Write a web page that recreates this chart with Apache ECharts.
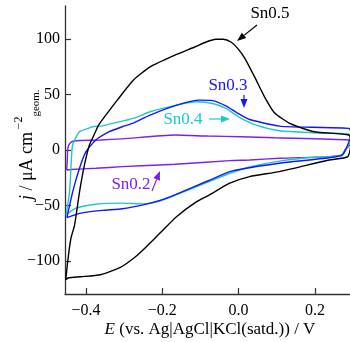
<!DOCTYPE html>
<html><head><meta charset="utf-8">
<script src="https://cdn.jsdelivr.net/npm/echarts@6/dist/echarts.min.js"></script>
<style>html,body{margin:0;padding:0;background:#fff}#c{width:350px;height:342px}</style>
</head><body><div id="c"></div>
<script>
// ---- data (E in V vs Ag|AgCl|KCl(satd.), j in µA cm^-2 geom.) ----
var xTicks = [-0.4, -0.2, 0.0, 0.2];
var yTicks = [-100, -50, 0, 50, 100];

var sn05E = [-0.453,-0.449,-0.444,-0.439,-0.430,-0.417,-0.404,-0.391,-0.379,-0.367,-0.346,-0.318,-0.276,-0.232,-0.167,-0.115,-0.085,-0.060,-0.040,-0.020,-0.003,0.016,0.042,0.068,0.094,0.137,0.198,0.289,0.295,
             0.286,0.237,0.107,0.029,-0.023,-0.081,-0.110,-0.162,-0.206,-0.250,-0.276,-0.310,-0.362,-0.414,-0.445,-0.453];
var sn05J = [-117,-104,-90,-79,-68,-38,-13.5,4.5,13.5,22.5,32.4,45,63,75,85.6,93,97.5,100,100,97.5,92,83,66,48,33.6,23.5,16.5,13.5,8,
             -6,-9,-19.5,-24,-30,-41.4,-46.6,-60,-75,-90,-98,-106,-112.6,-114.4,-115.3,-117];

var sn03E = [-0.450,-0.435,-0.417,-0.400,-0.374,-0.339,-0.305,-0.276,-0.232,-0.162,-0.102,-0.068,-0.032,-0.006,0.029,0.107,0.193,0.289,0.295,
             0.284,0.271,0.237,0.107,0.029,-0.023,-0.081,-0.167,-0.206,-0.250,-0.305,-0.357,-0.414,-0.450];
var sn03J = [-61,-38,-16.5,-1.5,9,16.5,21,24.3,31.5,40.5,45,44.6,39.6,34,27.5,21.6,20.5,19.5,15,
             3,-4.5,-7,-12,-16,-19.5,-28,-40.5,-45.5,-49.5,-53,-54.5,-57,-61];

var sn04E = [-0.452,-0.443,-0.439,-0.435,-0.4175,-0.398,-0.383,-0.362,-0.349,-0.276,-0.232,-0.162,-0.110,-0.068,-0.032,0.003,0.046,0.107,0.193,0.289,0.295,
             0.281,0.271,0.202,0.115,0.029,-0.023,-0.081,-0.167,-0.206,-0.250,-0.305,-0.374,-0.426,-0.452];
var sn04J = [-58.5,-37.5,-13.5,4.5,16.5,19,21,21.6,22.5,28.5,34.5,40.5,43.5,42,37.4,29.3,22.5,17.4,15.6,14.4,10,
             0,-5.4,-6.6,-9.6,-15.3,-21,-29,-41,-46,-48.6,-48,-49,-52.5,-58.5];

var sn02E = [-0.4505,-0.449,-0.448,-0.445,-0.440,-0.4315,-0.414,-0.362,-0.305,-0.167,-0.081,0.007,0.094,0.289,0.295,
             0.279,0.271,0.237,0.107,0.029,-0.023,-0.167,-0.206,-0.305,-0.374,-0.440,-0.4505];
var sn02J = [-18,-9,0,4.5,6.8,8.1,8.6,9,10,13.5,12.6,12,11,9,6,
             0,-4.5,-6,-7.5,-9,-9.6,-12.9,-13.5,-15,-16.5,-17.6,-18];

function pairs(E, J){ return E.map(function(e,i){ return [e, J[i]]; }); }

var FAM = 'Liberation Serif';
var chart = echarts.init(document.getElementById('c'), null, {renderer:'canvas'});

function ser(name, E, J, color){
  return {name:name, type:'line', data:pairs(E,J), showSymbol:false, smooth:0.2,
          lineStyle:{color:color, width:1.4}, itemStyle:{color:color}, clip:true, z:2, animation:false};
}

function arrow(x1,y1,x2,y2,color){
  var dx=x2-x1, dy=y2-y1, L=Math.sqrt(dx*dx+dy*dy), ux=dx/L, uy=dy/L;
  var hl=9, hw=3.5;
  var bx=x2-ux*hl, by=y2-uy*hl;
  return [
    {type:'line', shape:{x1:x1,y1:y1,x2:bx,y2:by}, style:{stroke:color, lineWidth:1.2}, z:10},
    {type:'polygon', shape:{points:[[x2,y2],[bx-uy*hw,by+ux*hw],[bx+uy*hw,by-ux*hw]]}, style:{fill:color}, z:10}
  ];
}

function txt(x,y,s,size,color,extra){
  var o = {type:'text', x:x, y:y, z:10, style:{text:s, fontFamily:FAM, fontSize:size, fill:color, textAlign:'center', textVerticalAlign:'middle'}};
  if (extra) { for (var k in extra) o[k]=extra[k]; }
  return o;
}
function minus(v, d){ var s = Math.abs(v).toFixed(d); return (v < 0 ? '\u2212' : '') + s; }

var C05='#000000', C03='#1414ff', C04='#1ec8c8', C02='#7b22e6';

var graphics = [
  txt(270,14,'Sn0.5',17,C05),
  txt(228,86,'Sn0.3',17,C03),
  txt(183,120,'Sn0.4',17,C04),
  txt(131,185,'Sn0.2',17,C02),
  {type:'text', x:210, y:330, z:10, style:{text:'{i|E} (vs. Ag|AgCl|KCl(satd.)) / V', fontFamily:FAM, fontSize:17, fill:'#000', textAlign:'center', textVerticalAlign:'middle',
     rich:{i:{fontStyle:'italic', fontFamily:FAM, fontSize:17, fill:'#000'}}}},
  {type:'text', x:27, y:166, rotation:Math.PI/2, z:10, style:{text:'{i|j} / μA cm', fontFamily:FAM, fontSize:18, fill:'#000', textAlign:'center', textVerticalAlign:'middle',
     rich:{i:{fontStyle:'italic', fontFamily:FAM, fontSize:18, fill:'#000'}}}},
  txt(19,123,'\u22122',12,'#000',{rotation:Math.PI/2}),
  txt(36,103,'geom.',11,'#000',{rotation:Math.PI/2})
].concat(arrow(257,25,237,41,C05))
 .concat(arrow(244,95,244,108,C03))
 .concat(arrow(209,119,230,119,C04))
 .concat(arrow(152,191,160,171,C02));

chart.setOption({
  animation:false,
  backgroundColor:'#fff',
  textStyle:{fontFamily:FAM},
  grid:{left:65, right:-2, top:6, height:288, containLabel:false},
  xAxis:{type:'value', min:-0.455, max:0.292,
    axisLine:{show:true, onZero:false, lineStyle:{color:'#333', width:1.3}},
    axisTick:{show:true, inside:true, length:6, customValues:xTicks, lineStyle:{color:'#333', width:1.2}},
    axisLabel:{customValues:xTicks, color:'#000', fontFamily:FAM, fontSize:16, margin:9,
      formatter:function(v){ return minus(v,1); }},
    splitLine:{show:false}},
  yAxis:{type:'value', min:-130, max:130,
    axisLine:{show:true, onZero:false, lineStyle:{color:'#333', width:1.3}},
    axisTick:{show:true, inside:true, length:6, customValues:yTicks, lineStyle:{color:'#333', width:1.2}},
    axisLabel:{customValues:yTicks, color:'#000', fontFamily:FAM, fontSize:16, margin:5,
      formatter:function(v){ return minus(v,0); }},
    splitLine:{show:false}},
  series:[
    ser('Sn0.2', sn02E, sn02J, C02),
    ser('Sn0.4', sn04E, sn04J, C04),
    ser('Sn0.3', sn03E, sn03J, C03),
    ser('Sn0.5', sn05E, sn05J, C05)
  ],
  graphic:graphics
});
</script></body></html>
